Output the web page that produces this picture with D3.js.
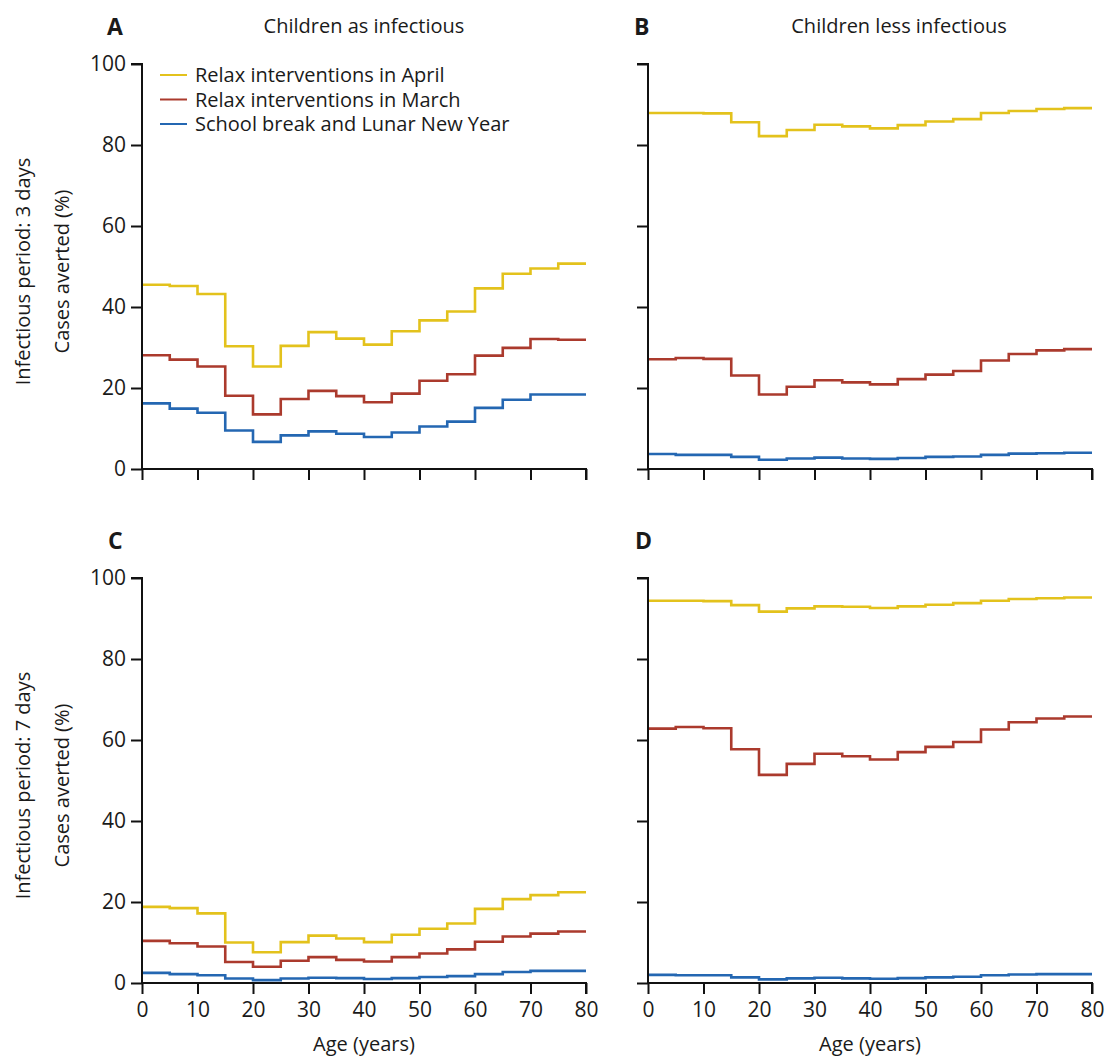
<!DOCTYPE html>
<html>
<head>
<meta charset="utf-8">
<script src="https://cdn.jsdelivr.net/npm/d3@7"></script>
<style>
  body { margin: 0; background: #fff; }
  svg text { font-family: "Open Sans", "Noto Sans", sans-serif; fill: #1a1a1a; }
</style>
</head>
<body>
<div id="chart"></div>
<script>
// age bins (lower bound of each 5 year group), last bin ends at 80
var ages = [0, 5, 10, 15, 20, 25, 30, 35, 40, 45, 50, 55, 60, 65, 70, 75];
var ageMax = 80;
var xTicks = [0, 10, 20, 30, 40, 50, 60, 70, 80];
var yTicks = [0, 20, 40, 60, 80, 100];

var seriesNames = ["Relax interventions in April", "Relax interventions in March", "School break and Lunar New Year"];
var seriesColors = ["#e3c21c", "#ab3a2d", "#2467b2"];

// A : infectious period 3 days, children as infectious
var aprilA  = [45.5, 45.2, 43.2, 30.3, 25.3, 30.4, 33.8, 32.2, 30.7, 34.0, 36.7, 38.9, 44.6, 48.2, 49.5, 50.7];
var marchA  = [28.1, 27.0, 25.3, 18.1, 13.5, 17.3, 19.3, 18.0, 16.5, 18.6, 21.8, 23.4, 28.0, 29.9, 32.1, 31.9];
var schoolA = [16.2, 14.9, 13.9, 9.5, 6.7, 8.3, 9.3, 8.7, 7.9, 9.0, 10.5, 11.7, 15.1, 17.1, 18.4, 18.4];

// B : infectious period 3 days, children less infectious
var aprilB  = [87.9, 87.9, 87.8, 85.6, 82.2, 83.7, 85.0, 84.6, 84.1, 84.9, 85.8, 86.4, 87.9, 88.4, 88.9, 89.1];
var marchB  = [27.1, 27.4, 27.2, 23.1, 18.4, 20.3, 21.9, 21.4, 20.9, 22.2, 23.3, 24.2, 26.8, 28.4, 29.3, 29.6];
var schoolB = [3.7, 3.5, 3.5, 3.0, 2.3, 2.6, 2.8, 2.6, 2.5, 2.7, 3.0, 3.1, 3.5, 3.8, 3.9, 4.0];

// C : infectious period 7 days, children as infectious
var aprilC  = [18.8, 18.5, 17.2, 10.0, 7.6, 10.1, 11.7, 11.0, 10.1, 11.9, 13.4, 14.7, 18.3, 20.7, 21.7, 22.4];
var marchC  = [10.4, 9.8, 9.0, 5.2, 4.0, 5.5, 6.4, 5.7, 5.3, 6.4, 7.3, 8.3, 10.2, 11.5, 12.2, 12.7];
var schoolC = [2.5, 2.2, 1.9, 1.1, 0.7, 1.1, 1.3, 1.2, 1.0, 1.2, 1.5, 1.7, 2.2, 2.7, 3.0, 3.0];

// D : infectious period 7 days, children less infectious
var aprilD  = [94.4, 94.4, 94.3, 93.3, 91.7, 92.5, 93.0, 92.9, 92.6, 93.0, 93.4, 93.8, 94.4, 94.8, 95.0, 95.2];
var marchD  = [62.8, 63.2, 62.9, 57.7, 51.4, 54.1, 56.6, 56.0, 55.2, 57.0, 58.3, 59.5, 62.6, 64.4, 65.3, 65.8];
var schoolD = [2.0, 1.9, 1.9, 1.4, 0.9, 1.15, 1.3, 1.15, 1.05, 1.2, 1.4, 1.55, 1.9, 2.1, 2.2, 2.2];

var width = 1107, height = 1059;
var fontSize = "20px";
var svg = d3.select("#chart").append("svg")
    .attr("width", width)
    .attr("height", height);

var panels = [
    {letter: "A", letterX: 107, left: 142, top: 64,  bottom: 469, series: [aprilA, marchA, schoolA], title: "Children as infectious", titleX: 364, yLabels: true,  xLabels: false, legend: true},
    {letter: "B", letterX: 634, left: 648, top: 64,  bottom: 469, series: [aprilB, marchB, schoolB], title: "Children less infectious", titleX: 899, yLabels: false, xLabels: false},
    {letter: "C", letterX: 108, left: 142, top: 578, bottom: 983, series: [aprilC, marchC, schoolC], yLabels: true,  xLabels: true},
    {letter: "D", letterX: 635, left: 648, top: 578, bottom: 983, series: [aprilD, marchD, schoolD], yLabels: false, xLabels: true}
];
var plotW = 444;

panels.forEach(function(p) {
    var x = d3.scaleLinear().domain([0, ageMax]).range([p.left, p.left + plotW]);
    var y = d3.scaleLinear().domain([0, 100]).range([p.bottom, p.top]);
    var g = svg.append("g");

    // step lines (drawn first so the axes sit on top)
    var line = d3.line()
        .x(function(d) { return x(d[0]); })
        .y(function(d) { return y(d[1]); })
        .curve(d3.curveStepAfter);

    p.series.forEach(function(vals, i) {
        var pts = ages.map(function(a, j) { return [a, vals[j]]; });
        pts.push([ageMax, vals[vals.length - 1]]);
        g.append("path")
            .datum(pts)
            .attr("d", line)
            .attr("fill", "none")
            .attr("stroke", seriesColors[i])
            .attr("stroke-width", 2.6);
    });

    var xAxis = d3.axisBottom(x).tickValues(xTicks).tickSize(11).tickPadding(8)
        .tickFormat(p.xLabels ? d3.format("d") : "");
    var gx = g.append("g")
        .attr("transform", "translate(0," + p.bottom + ")")
        .call(xAxis);

    var yAxis = d3.axisLeft(y).tickValues(yTicks).tickSize(11).tickPadding(5)
        .tickFormat(p.yLabels ? d3.format("d") : "");
    var gy = g.append("g")
        .attr("transform", "translate(" + p.left + ",0)")
        .call(yAxis);

    [gx, gy].forEach(function(ax) {
        ax.select(".domain").attr("stroke", "#111").attr("stroke-width", 2);
        ax.selectAll(".tick line").attr("stroke", "#111").attr("stroke-width", 2);
        ax.selectAll(".tick text").style("font-size", "21px").attr("fill", "#1a1a1a");
    });
    // keep the axis lines square at the ends
    gx.select(".domain").attr("d", "M" + p.left + ",0H" + (p.left + plotW) + "V11");
    gy.select(".domain").attr("d", "M-11," + p.top + "H0V" + p.bottom);

    // panel letter
    g.append("text")
        .attr("x", p.letterX)
        .attr("y", p.top - 29)
        .style("font-size", "23px")
        .style("font-weight", "bold")
        .text(p.letter);

    if (p.title) {
        g.append("text")
            .attr("x", p.titleX)
            .attr("y", p.top - 31)
            .attr("text-anchor", "middle")
            .style("font-size", fontSize)
            .text(p.title);
    }

    if (p.yLabels) {
        var midY = (p.top + p.bottom) / 2;
        var period = p.letter === "A" ? "3" : "7";
        g.append("text")
            .attr("transform", "translate(30," + (midY + 5) + ") rotate(-90)")
            .attr("text-anchor", "middle")
            .style("font-size", fontSize)
            .text("Infectious period: " + period + " days");
        g.append("text")
            .attr("transform", "translate(69," + (midY + 5) + ") rotate(-90)")
            .attr("text-anchor", "middle")
            .style("font-size", fontSize)
            .text("Cases averted (%)");
    }

    if (p.xLabels) {
        g.append("text")
            .attr("x", p.left + plotW / 2)
            .attr("y", p.bottom + 68)
            .attr("text-anchor", "middle")
            .style("font-size", fontSize)
            .text("Age (years)");
    }

    if (p.legend) {
        seriesNames.forEach(function(name, i) {
            var ly = p.top + 11 + i * 24.5;
            g.append("line")
                .attr("x1", p.left + 18).attr("x2", p.left + 45)
                .attr("y1", ly).attr("y2", ly)
                .attr("stroke", seriesColors[i])
                .attr("stroke-width", 2);
            g.append("text")
                .attr("x", p.left + 53)
                .attr("y", ly + 7)
                .style("font-size", fontSize)
                .text(name);
        });
    }
});
</script>
</body>
</html>
